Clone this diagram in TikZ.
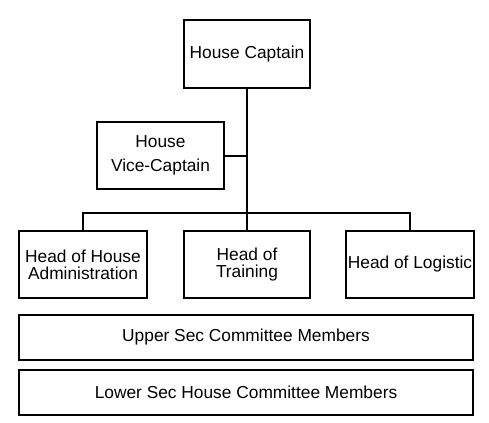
\documentclass[tikz,border=0pt]{standalone}
\usepackage{fontspec}
\setmainfont{Liberation Sans}
\usetikzlibrary{positioning}

\begin{document}
\begin{tikzpicture}[
    x=0.75pt, y=-0.75pt,
    box/.style={rectangle, draw=black, line width=1.5pt, align=center,
                inner sep=1pt, font=\fontsize{13}{13}\selectfont},
    link/.style={line width=1.5pt, black},
]
    \useasboundingbox (0,0) rectangle (489,423);

    \node[box, minimum width=94.5pt, minimum height=51pt] (captain) at (247,54) {House Captain};
    \node[box, minimum width=95.25pt, minimum height=50.25pt] (vice) at (160.5,155.5) {House\\[5pt]Vice-Captain};

    \node[box, minimum width=96pt, minimum height=50.25pt] (admin) at (83,264.5) {Head of House\\Administration};
    \node[box, minimum width=94.5pt, minimum height=50.25pt] (training) at (247,264.5) {Head of\\Training};
    \node[box, minimum width=96pt, minimum height=50.25pt] (logistic) at (410,264.5) {Head of Logistic};

    \node[box, minimum width=340.5pt, minimum height=33.75pt] (upper) at (246,337.5) {Upper Sec Committee Members};
    \node[box, minimum width=340.5pt, minimum height=33.75pt] (lower) at (246,392.5) {Lower Sec House Committee Members};

    % bus line
    \coordinate (bus) at (247,213);
    \coordinate (joint) at (247,156);

    \draw[link] (captain.south) -- (bus);
    \draw[link] (vice.east |- joint) -- (joint);
    \draw[link] (admin.north) |- (bus) -| (logistic.north);
    \draw[link] (bus) -- (training.north);
\end{tikzpicture}
\end{document}
